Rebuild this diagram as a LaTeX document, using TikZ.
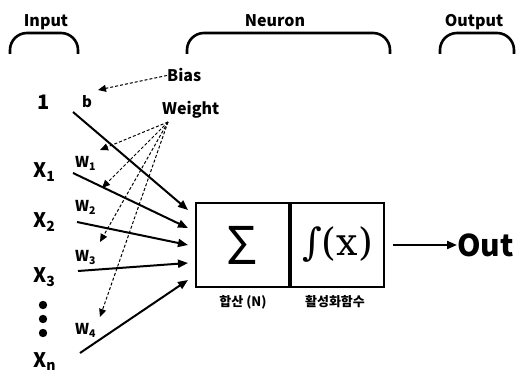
\documentclass[tikz,border=0pt]{standalone}
\usepackage{fontspec}
\setmainfont{Noto Sans CJK KR}
\newfontfamily\serifsym{DejaVu Serif}
\usetikzlibrary{arrows.meta,calc}

\begin{document}
\begin{tikzpicture}[x=1pt, y=-1pt,
  every node/.style={inner sep=0pt, font=\bfseries},
  head/.style={font=\fontsize{16}{16}\selectfont\bfseries, anchor=base},
  inlab/.style={font=\fontsize{20}{20}\selectfont\bfseries, anchor=base west},
  wlab/.style={font=\fontsize{15}{15}\selectfont\bfseries, anchor=base west},
  hint/.style={font=\fontsize{16}{16}\selectfont\bfseries, anchor=base west},
  cell/.style={draw, line width=2pt, minimum width=93pt, minimum height=84pt},
  brace/.style={line width=2.6pt, rounded corners=17pt},
  feed/.style={-{Triangle[length=10pt,width=8pt]}, line width=2pt},
  point/.style={-{Triangle[length=8pt,width=7pt]}, line width=1pt, dash pattern=on 3pt off 2pt}]
  \useasboundingbox (0,0) rectangle (520,374);

  % headers and brackets
  \node[head] (hin)  at (46,27)  {Input};
  \node[head] (hneu) at (275,27) {Neuron};
  \node[head] (hout) at (474,27) {Output};
  \draw[brace] (10,54) -- (10,33) -- (78,33) -- (78,54);
  \draw[brace] (187,54) -- (187,33) -- (390,33) -- (390,54);
  \draw[brace] (440,54) -- (440,33) -- (514,33) -- (514,54);

  % inputs
  \node[inlab] (one) at (37,110) {1};
  \node[inlab] (x1)  at (33,178) {X\textsubscript{1}};
  \node[inlab] (x2)  at (33,228) {X\textsubscript{2}};
  \node[inlab] (x3)  at (33,283) {X\textsubscript{3}};
  \node[inlab] (xn)  at (33,367) {X\textsubscript{n}};
  \foreach \y in {305,319,333}
    \fill (43,\y) circle (4.2);

  % weights
  \node[wlab] (b)  at (82,108) {b};
  \node[wlab] (w1) at (75,168) {W\textsubscript{1}};
  \node[wlab] (w2) at (75,212) {W\textsubscript{2}};
  \node[wlab] (w3) at (75,262) {W\textsubscript{3}};
  \node[wlab] (w4) at (75,335) {W\textsubscript{4}};
  \node[hint] (bias)   at (167,82)  {Bias};
  \node[hint] (weight) at (162,115) {Weight};

  % neuron
  \node[cell] (sum) at (242.5,245) {\fontsize{52}{52}\selectfont\mdseries Σ};
  \node[cell, anchor=west] (act) at (sum.east) {};
  \node (fx) at (act.center) {\serifsym\mdseries\fontsize{38}{38}\selectfont ∫(x)};
  \node[font=\fontsize{13}{13}\selectfont\bfseries] (nsum) at (243,302) {합산 (N)};
  \node[font=\fontsize{13}{13}\selectfont\bfseries] (nact) at (335,302) {활성화함수};
  \node[font=\fontsize{30}{30}\selectfont\bfseries, anchor=base west] (out) at (457,257) {Out};

  % connectors
  \coordinate (s0) at (73,112);  \coordinate (e0) at (188,210);
  \coordinate (s1) at (73,173);  \coordinate (e1) at (188,228);
  \coordinate (s2) at (77,222);  \coordinate (e2) at (188,245);
  \coordinate (s3) at (78,271);  \coordinate (e3) at (188,263);
  \coordinate (s4) at (80,353);  \coordinate (e4) at (188,280);
  \foreach \i in {0,...,4}
    \draw[feed] (s\i) -- (e\i);
  \draw[feed] ([xshift=8pt]act.east) -- (act.east -| out.west);

  \coordinate (apex) at (168,122);
  \coordinate (tb) at (98,90);
  \coordinate (t1) at (100,150);
  \coordinate (t2) at (102,188);
  \coordinate (t3) at (100,242);
  \coordinate (t4) at (100,317);
  \draw[point] (bias.west) -- (tb);
  \foreach \i in {1,...,4}
    \draw[point] (apex) -- (t\i);
\end{tikzpicture}
\end{document}
